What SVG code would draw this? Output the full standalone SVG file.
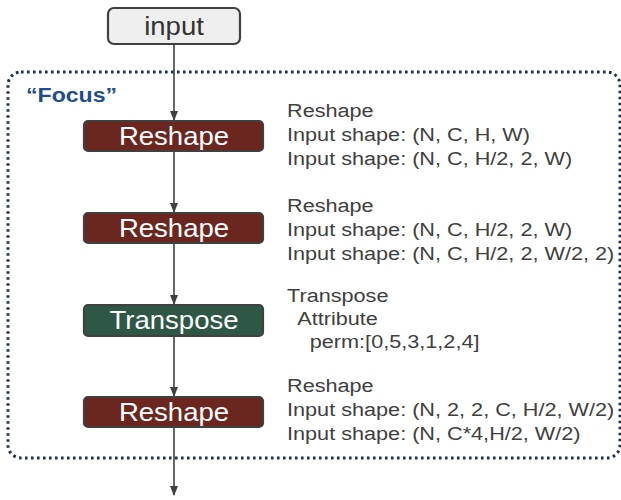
<svg xmlns="http://www.w3.org/2000/svg" width="621" height="500" viewBox="0 0 621 500">
<style>
.node{stroke:#404040;stroke-width:2.2}
.lbl{font-family:"Liberation Sans",Arial,sans-serif;font-size:25.5px;text-anchor:middle;fill:#fff}
.note{font-family:"Liberation Sans",Arial,sans-serif;font-size:19px;fill:#404040}
.conn{stroke:#404040;stroke-width:1.6;fill:none}
</style>
<defs>
<marker id="ah" markerWidth="10" markerHeight="8" refX="9" refY="4" orient="auto" markerUnits="userSpaceOnUse">
<path d="M0,0 L10,4 L0,8 z" fill="#404040"/>
</marker>
</defs>
<rect x="8" y="72" width="612" height="386" rx="13" fill="none" stroke="#1f3050" stroke-width="3" stroke-dasharray="2.6 3.4"/>
<text transform="translate(26,102) scale(1.1,1)" font-family="Liberation Sans,Arial,sans-serif" font-size="21" font-weight="bold" fill="#1f4e8c">“Focus”</text>
<g id="connectors">
<line class="conn" x1="174" y1="44" x2="174" y2="120" marker-end="url(#ah)"/>
<line class="conn" x1="174" y1="151" x2="174" y2="212" marker-end="url(#ah)"/>
<line class="conn" x1="174" y1="243" x2="174" y2="304" marker-end="url(#ah)"/>
<line class="conn" x1="174" y1="336" x2="174" y2="396" marker-end="url(#ah)"/>
<line class="conn" x1="174" y1="427" x2="174" y2="495" marker-end="url(#ah)"/>
</g>
<g id="input">
<rect class="node" x="108" y="8" width="132" height="36" rx="6" fill="#efefef"/>
<text class="lbl" transform="translate(174,35) scale(1.08,1)" style="fill:#333">input</text>
</g>
<g id="reshape1">
<rect class="node" x="84" y="121" width="179" height="30" rx="4" fill="#6b2620"/>
<text class="lbl" transform="translate(174,145) scale(1.08,1)">Reshape</text>
</g>
<g id="reshape2">
<rect class="node" x="84" y="213" width="179" height="30" rx="4" fill="#6b2620"/>
<text class="lbl" transform="translate(174,237) scale(1.08,1)">Reshape</text>
</g>
<g id="transpose">
<rect class="node" x="84" y="305" width="179" height="31" rx="4" fill="#2e5745"/>
<text class="lbl" transform="translate(174,329) scale(1.08,1)">Transpose</text>
</g>
<g id="reshape3">
<rect class="node" x="84" y="397" width="179" height="30" rx="4" fill="#6b2620"/>
<text class="lbl" transform="translate(174,421) scale(1.08,1)">Reshape</text>
</g>
<g id="notes" transform="translate(287,0) scale(1.14,1)">
<text class="note" x="0" y="117">Reshape</text>
<text class="note" x="0" y="141">Input shape: (N, C, H, W)</text>
<text class="note" x="0" y="165">Input shape: (N, C, H/2, 2, W)</text>
<text class="note" x="0" y="212">Reshape</text>
<text class="note" x="0" y="236">Input shape: (N, C, H/2, 2, W)</text>
<text class="note" x="0" y="260">Input shape: (N, C, H/2, 2, W/2, 2)</text>
<text class="note" x="0" y="302">Transpose</text>
<text class="note" x="9" y="325">Attribute</text>
<text class="note" x="20" y="348">perm:[0,5,3,1,2,4]</text>
<text class="note" x="0" y="392">Reshape</text>
<text class="note" x="0" y="416">Input shape: (N, 2, 2, C, H/2, W/2)</text>
<text class="note" x="0" y="440">Input shape: (N, C*4,H/2, W/2)</text>
</g>
</svg>
